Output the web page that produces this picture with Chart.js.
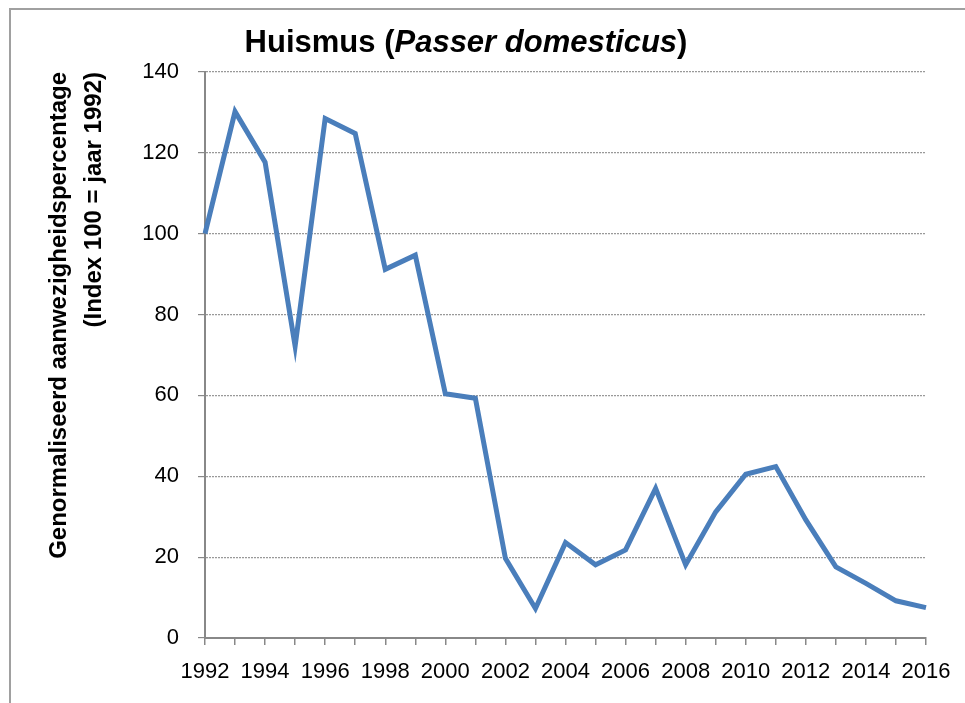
<!DOCTYPE html>
<html lang="nl">
<head>
    <meta charset="UTF-8">
    <title>Huismus (Passer domesticus)</title>
    <script src="https://cdn.jsdelivr.net/npm/chart.js"></script>
    <style>
        html, body { margin: 0; padding: 0; background: #fff; }
        .wrap { position: relative; width: 965px; height: 703px; overflow: hidden; }
        .frame {
            position: absolute; left: 9px; top: 8px; width: 1000px; height: 694px;
            border-top: 2px solid #a0a0a0; border-left: 2px solid #a0a0a0;
        }
        canvas { position: absolute; left: 0; top: 0; }
    </style>
</head>
<body>
    <div class="wrap">
        <div class="frame"></div>
        <canvas id="chart" width="965" height="703"></canvas>
    </div>

    <script>
        // data
        const years = ['1992', '1993', '1994', '1995', '1996', '1997', '1998', '1999', '2000',
            '2001', '2002', '2003', '2004', '2005', '2006', '2007', '2008', '2009', '2010',
            '2011', '2012', '2013', '2014', '2015', '2016'];
        const indexValues = [100, 130.2, 117.7, 72.2, 128.5, 124.8, 91.2, 94.7, 60.4,
            59.3, 19.7, 7.3, 23.6, 18.1, 21.8, 37.0, 18.1, 31.2, 40.5,
            42.4, 29.2, 17.6, 13.5, 9.2, 7.5];
        const yTicks = [0, 20, 40, 60, 80, 100, 120, 140];

        const FONT = "'Liberation Sans', Arial, sans-serif";

        // title with an italic part, drawn as text segments
        const titlePlugin = {
            id: 'mixedTitle',
            afterDraw(chart) {
                const ctx = chart.ctx;
                const parts = [
                    { text: 'Huismus (', font: 'bold 31px ' + FONT },
                    { text: 'Passer domesticus', font: 'italic bold 31px ' + FONT },
                    { text: ')', font: 'bold 31px ' + FONT }
                ];
                ctx.save();
                let total = 0;
                parts.forEach(p => { ctx.font = p.font; p.w = ctx.measureText(p.text).width; total += p.w; });
                let x = 466 - total / 2;
                ctx.fillStyle = '#000';
                ctx.textBaseline = 'alphabetic';
                ctx.textAlign = 'left';
                parts.forEach(p => { ctx.font = p.font; ctx.fillText(p.text, x, 52); x += p.w; });
                ctx.restore();
            }
        };

        new Chart(document.getElementById('chart'), {
            type: 'line',
            data: {
                labels: years,
                datasets: [{
                    label: 'Huismus',
                    data: indexValues,
                    borderColor: '#4a7ebb',
                    borderWidth: 5,
                    pointRadius: 0,
                    tension: 0,
                    fill: false
                }]
            },
            options: {
                responsive: false,
                animation: false,
                layout: { padding: { left: 12, right: 39, top: 72, bottom: 0 } },
                plugins: {
                    legend: { display: false },
                    tooltip: { enabled: false }
                },
                scales: {
                    x: {
                        offset: false,
                        afterFit: s => { s.height = 65; },
                        border: { display: true, color: '#888', width: 2 },
                        grid: { drawOnChartArea: false, drawTicks: true, tickLength: 7, color: '#888', lineWidth: 1.5 },
                        ticks: {
                            autoSkip: false, maxRotation: 0, minRotation: 0, padding: 14,
                            color: '#000', font: { family: FONT, size: 22 },
                            callback: function (v, i) { return i % 2 === 0 ? this.getLabelForValue(v) : ''; }
                        }
                    },
                    y: {
                        min: 0, max: 140,
                        afterFit: s => { s.width = 193; },
                        afterBuildTicks: s => { s.ticks = yTicks.map(v => ({ value: v })); },
                        border: { display: true, color: '#888', width: 2, dash: [2, 1] },
                        grid: {
                            color: '#999', lineWidth: 1.2, tickLength: 7,
                            tickBorderDash: [], tickColor: '#888'
                        },
                        ticks: { padding: 19, color: '#000', font: { family: FONT, size: 22 } },
                        title: {
                            display: true, align: 'end',
                            text: ['Genormaliseerd aanwezigheidspercentage', '(Index 100 = jaar 1992)'],
                            color: '#000', font: { family: FONT, size: 24, weight: 'bold', lineHeight: 1.45 },
                            padding: { top: 30, bottom: 0 }
                        }
                    }
                }
            },
            plugins: [titlePlugin]
        });
    </script>
</body>
</html>
